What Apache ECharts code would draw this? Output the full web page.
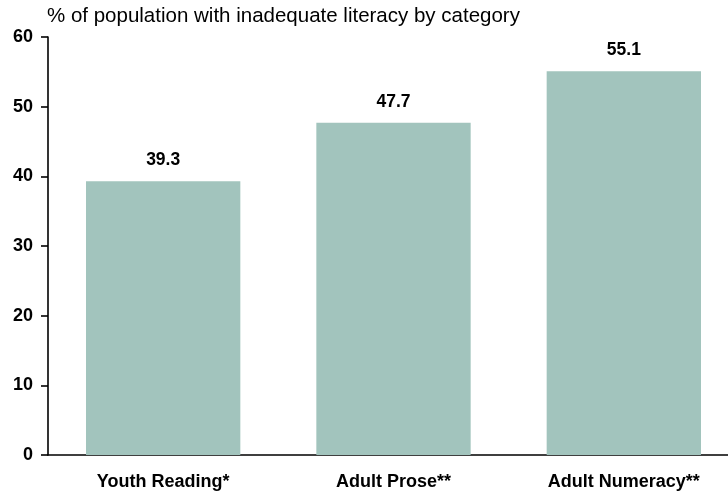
<!DOCTYPE html>
<html><head><meta charset="utf-8">
<script src="https://cdn.jsdelivr.net/npm/echarts@6/dist/echarts.min.js"></script>
<style>html,body{margin:0;padding:0;background:#fff}#c{width:728px;height:495px}</style>
</head><body><div id="c"></div>
<script>
const categories = ['Youth Reading*', 'Adult Prose**', 'Adult Numeracy**'];
const values = [39.3, 47.7, 55.1];
const yTicks = [0, 10, 20, 30, 40, 50, 60];
const chart = echarts.init(document.getElementById('c'));
const font = 'Liberation Sans, Arial, sans-serif';
chart.setOption({
  animation: false,
  grid: { left: 48, width: 691, top: 37, height: 418, outerBoundsMode: 'none', containLabel: false },
  title: { text: '% of population with inadequate literacy by category', left: 47, top: 6, padding: 0,
    textStyle: { fontFamily: font, fontSize: 20.5, fontWeight: 'normal', color: '#000' } },
  xAxis: { type: 'category', data: categories,
    axisLine: { lineStyle: { color: '#000', width: 1.6 } }, axisTick: { show: false },
    axisLabel: { fontFamily: font, fontSize: 18, fontWeight: 'bold', color: '#000', margin: 18 } },
  yAxis: { type: 'value', min: yTicks[0], max: yTicks[yTicks.length-1], interval: 10,
    splitLine: { show: false },
    axisLine: { show: true, lineStyle: { color: '#000', width: 1.6 } },
    axisTick: { show: true, length: 7, lineStyle: { color: '#000', width: 1.6 } },
    axisLabel: { fontFamily: font, fontSize: 18, fontWeight: 'bold', color: '#000', margin: 15 } },
  series: [{ type: 'bar', data: values, barWidth: '67%',
    itemStyle: { color: '#a2c4bd' },
    label: { show: true, position: 'top', distance: 12, fontFamily: font, fontSize: 17.5, fontWeight: 'bold', color: '#000',
      formatter: p => p.value.toFixed(1) } }]
});
</script></body></html>
